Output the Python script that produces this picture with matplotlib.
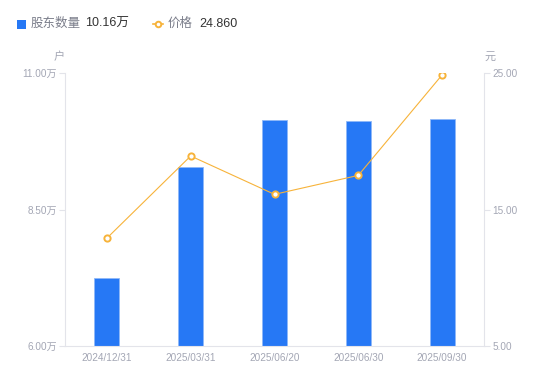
import matplotlib
matplotlib.use("Agg")
import matplotlib.pyplot as plt
from matplotlib.lines import Line2D
from matplotlib.patches import Rectangle

plt.rcParams['font.family'] = ['Liberation Sans', 'Noto Sans CJK SC', 'DejaVu Sans']

dates = ["2024/12/31", "2025/03/31", "2025/06/20", "2025/06/30", "2025/09/30"]
holders = [7.25, 9.28, 10.14, 10.12, 10.16]  # 万户
prices = [12.90, 18.92, 16.11, 17.50, 24.86]  # 元
left_ticks = [6.0, 8.5, 11.0]
right_ticks = [5.0, 15.0, 25.0]

bar_color = "#2678f5"
line_color = "#f7b33a"
tick_color = "#a3a6b4"
axis_color = "#e3e4ea"

fig = plt.figure(figsize=(5.5, 3.81), dpi=100)
ax = fig.add_axes([65/550, 35/381, (484-65)/550, (346-73)/381])
ax2 = ax.twinx()

x = list(range(len(dates)))
ax.bar(x, holders, width=0.3, color=bar_color, edgecolor="#8fb8f8", linewidth=0.6, zorder=2)
ax.set_ylim(6.0, 11.0)
ax.set_xlim(-0.5, 4.5)
ax.set_yticks(left_ticks)
ax.set_yticklabels([f"{v:.2f}万" for v in left_ticks])
ax.set_xticks(x)
ax.set_xticklabels(dates)

ax2.plot(x, prices, color=line_color, linewidth=0.8, marker="o", markersize=4.5,
         markerfacecolor="white", markeredgecolor=line_color, markeredgewidth=1.4, zorder=3)
ax2.set_ylim(5.0, 25.0)
ax2.set_yticks(right_ticks)
ax2.set_yticklabels([f"{v:.2f}" for v in right_ticks])

for a in (ax, ax2):
    for s in a.spines.values():
        s.set_visible(False)
    a.tick_params(colors=tick_color, labelsize=7.2, length=4, width=0.8, color=axis_color, pad=2)
ax.spines['left'].set_visible(True)
ax.spines['left'].set_color(axis_color)
ax.spines['bottom'].set_visible(True)
ax.spines['bottom'].set_color(axis_color)
ax2.spines['right'].set_visible(True)
ax2.spines['right'].set_color(axis_color)
ax.tick_params(axis='x', length=0, pad=5)

# axis unit labels
fig.text(59/550, 1-57/381, "户", color=tick_color, fontsize=8, ha="center", va="center")
fig.text(490/550, 1-57/381, "元", color=tick_color, fontsize=8, ha="center", va="center")

# legend
fig.patches.append(Rectangle((17/550, 1-29/381), 9/550, 9/381, transform=fig.transFigure,
                             facecolor=bar_color, edgecolor="none"))
fig.text(31/550, 1-24/381, "股东数量", color="#7a7d8a", fontsize=9, va="center")
fig.text(85/550, 1-24/381, "10.16万", color="#333333", fontsize=9, va="center")
fig.lines.append(Line2D([153/550, 163/550], [1-24/381, 1-24/381], transform=fig.transFigure,
                        color=line_color, linewidth=1.2))
fig.lines.append(Line2D([158/550], [1-24/381], transform=fig.transFigure, color=line_color,
                        marker="o", markersize=4, markerfacecolor="white",
                        markeredgewidth=1.4, linestyle="none"))
fig.text(168/550, 1-24/381, "价格", color="#7a7d8a", fontsize=9, va="center")
fig.text(199/550, 1-24/381, "24.860", color="#333333", fontsize=9, va="center")

fig.savefig("out.png", dpi=100)
